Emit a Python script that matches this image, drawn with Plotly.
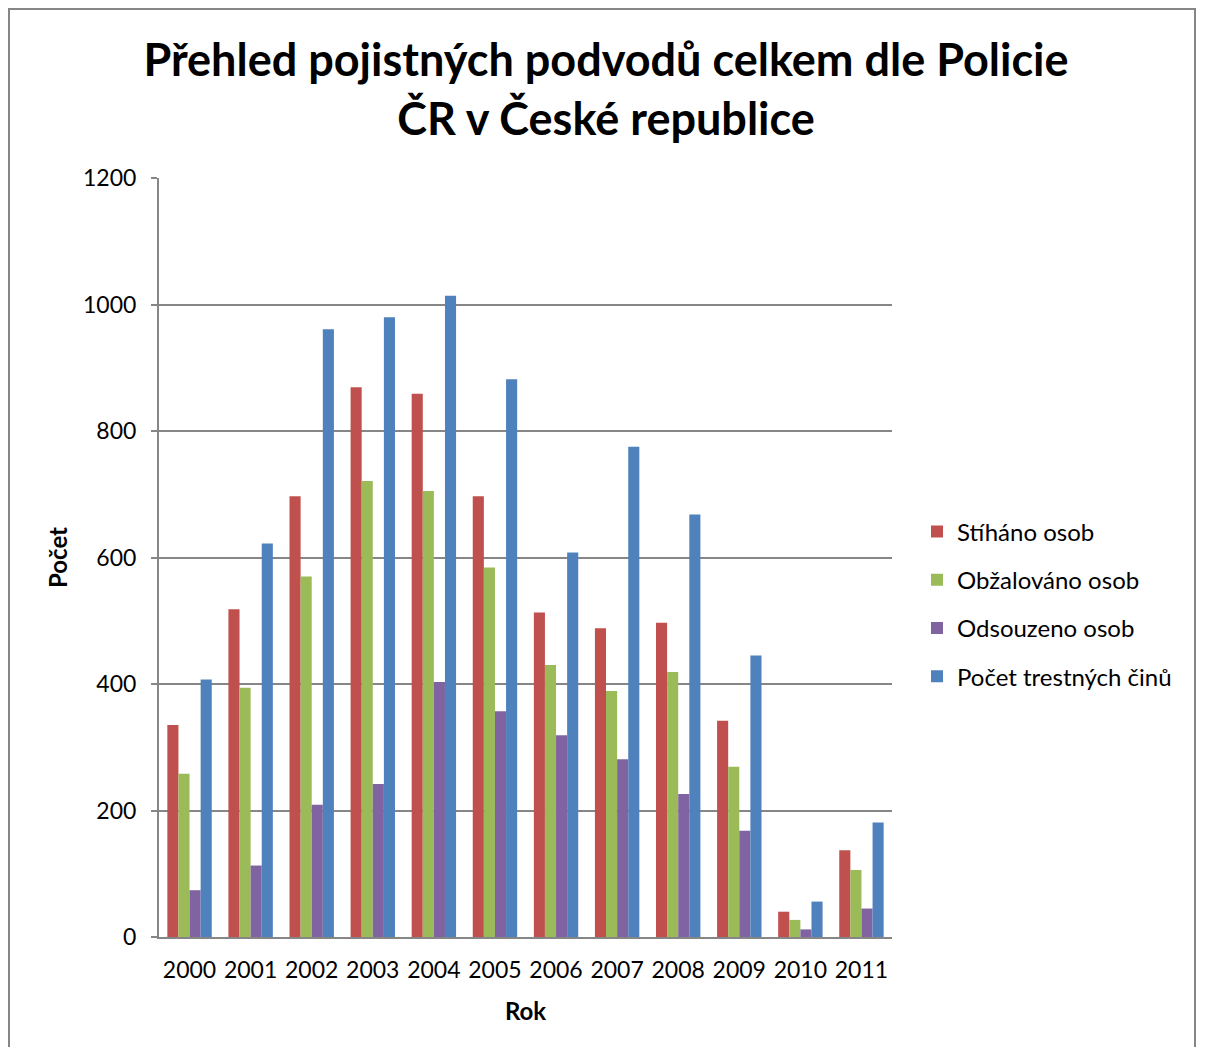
import plotly.graph_objects as go

years = ["2000", "2001", "2002", "2003", "2004", "2005", "2006", "2007", "2008", "2009", "2010", "2011"]
stihano = [335, 518, 697, 869, 859, 697, 513, 488, 497, 342, 40, 137]
obzalovano = [258, 394, 570, 721, 705, 584, 430, 389, 419, 269, 27, 106]
odsouzeno = [74, 113, 209, 242, 403, 357, 319, 281, 226, 168, 12, 45]
trestne_ciny = [407, 622, 961, 980, 1014, 882, 608, 775, 668, 445, 56, 181]

series = [
    ("Stíháno osob", stihano, "#C0504D"),
    ("Obžalováno osob", obzalovano, "#9BBB59"),
    ("Odsouzeno osob", odsouzeno, "#8064A2"),
    ("Počet trestných činů", trestne_ciny, "#4F81BD"),
]

OFF = 8  # page body margin
W, H = 1205 - 2 * OFF, 1055 - 2 * OFF
L, R, T, B = 159 - OFF, 892 - OFF, 178 - OFF, 937 - OFF

fig = go.Figure()
for i, (name, vals, col) in enumerate(series):
    fig.add_trace(go.Bar(x=years, y=vals, name=name, marker=dict(color=col, line=dict(width=0)),
                         legendgroup=str(i)))

def px_x(p):
    return (p - OFF - L) / (R - L)

def px_y(p):
    return (B - (p - OFF)) / (B - T)

fig.update_layout(
    width=W, height=H,
    margin=dict(l=L, r=W - R, t=T, b=H - B, pad=0),
    paper_bgcolor="white", plot_bgcolor="white",
    font=dict(family="Lato, 'Open Sans', sans-serif", color="black"),
    barmode="group", bargap=0.273, bargroupgap=0,
    title=dict(text="<b>Přehled pojistných podvodů celkem dle Policie<br>ČR v České republice</b>",
               x=(606 - OFF) / W, xanchor="center", y=1 - (76 - OFF) / H, yanchor="middle",
               font=dict(size=45, family="Lato, sans-serif")),
    showlegend=True,
    legend=dict(x=px_x(917), xanchor="left", y=px_y(604), yanchor="middle",
                font=dict(size=24), tracegroupgap=14, traceorder="grouped",
                bgcolor="rgba(0,0,0,0)"),
    xaxis=dict(showgrid=False, showline=True, linecolor="#868686", linewidth=2,
               tickfont=dict(size=23), ticks="", ticklabelstandoff=11,
               title=dict(text="<b>Rok</b>", font=dict(size=24), standoff=22)),
    yaxis=dict(range=[0, 1200], dtick=200, showgrid=True, gridcolor="#868686", gridwidth=1.5,
               showline=True, linecolor="#868686", linewidth=2, ticks="outside", ticklen=6,
               tickcolor="#868686", tickwidth=1.5, tickfont=dict(size=23), ticklabelstandoff=10,
               zeroline=False,
               title=dict(text="<b>Počet</b>", font=dict(size=24), standoff=9)),
    shapes=[dict(type="rect", xref="paper", yref="paper",
                 x0=px_x(9), x1=px_x(1195), y0=px_y(1080), y1=px_y(9),
                 line=dict(color="#868686", width=2), fillcolor="rgba(0,0,0,0)", layer="below")],
)

fig.write_html("out.html")
